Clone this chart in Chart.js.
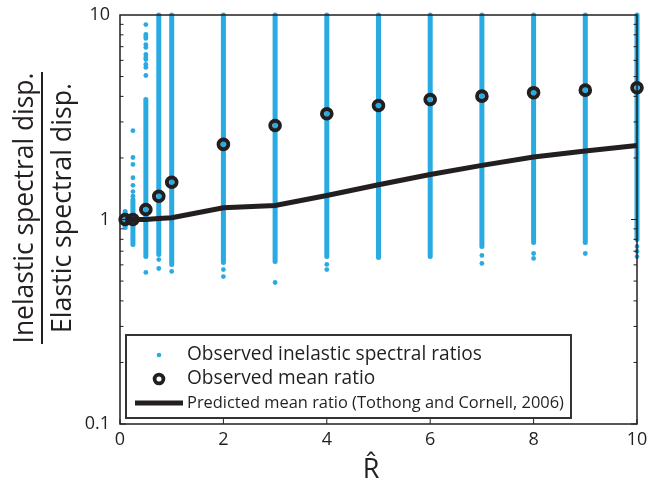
<!DOCTYPE html>
<html>
<head>
<meta charset="utf-8">
<script src="https://cdn.jsdelivr.net/npm/chart.js@4.4.0/dist/chart.umd.min.js"></script>
<style>
  html, body { margin: 0; padding: 0; background: #fff; }
  canvas { display: block; }
</style>
</head>
<body>
<canvas id="ratioChart" width="649" height="482"></canvas>
<script>
// R-hat values where the analyses were run
const rHat = [0.1, 0.25, 0.5, 0.75, 1, 2, 3, 4, 5, 6, 7, 8, 9, 10];
// dense part of each column of observed ratios (low / high end)
const obsLow = [0.914, 0.755, 0.659, 0.674, 0.603, 0.616, 0.623, 0.659, 0.652, 0.659, 0.738, 0.772, 0.772, 0.799];
const obsHigh = [1.094, 1.25, 3.86, 10, 10, 10, 10, 10, 10, 10, 10, 10, 10, 10];
// isolated observed ratios outside the dense part
const obsSparse = [
  [],
  [2.72, 2.01, 1.86, 1.60, 1.47, 1.37, 1.30],
  [8.98, 8.03, 7.85, 7.68, 7.17, 6.94, 6.41, 6.20, 6.06, 5.73, 5.54, 5.06, 0.551],
  [0.637, 0.576],
  [0.557],
  [0.569, 0.526],
  [0.492],
  [0.603, 0.569],
  [],
  [],
  [0.667, 0.610],
  [0.682, 0.645],
  [0.682],
  [0.738, 0.698, 0.659],
];
const meanRatio = [1.0, 1.0, 1.12, 1.30, 1.52, 2.33, 2.88, 3.29, 3.61, 3.86, 4.01, 4.17, 4.29, 4.41];
const predictedRatio = [1.0, 1.0, 1.0, 1.01, 1.02, 1.14, 1.17, 1.31, 1.48, 1.66, 1.84, 2.02, 2.16, 2.30];
const xTicks = [0, 2, 4, 6, 8, 10];
const yTicks = [0.1, 1, 10];

const BLUE = "#29abe2";
const INK = "#231f20";
const FONT = "'Open Sans', sans-serif";

const columnSets = rHat.map((x, i) => ({
  type: "line",
  data: [{ x, y: obsLow[i] }, { x, y: obsHigh[i] }],
  borderColor: BLUE,
  borderWidth: 5,
  borderCapStyle: "round",
  pointRadius: 0,
  clip: false,
}));

const sparsePoints = [];
obsSparse.forEach((vals, i) => vals.forEach((v) => sparsePoints.push({ x: rHat[i], y: v })));

// draw text so that it spans a given width
function fitText(ctx, text, x, y, width, base) {
  ctx.font = base + "px " + FONT;
  const size = base * width / ctx.measureText(text).width;
  ctx.font = size.toFixed(2) + "px " + FONT;
  ctx.fillText(text, x, y);
}

// labels may hang outside the plot; keep layout padding in charge
function noOverhang(scale) {
  scale.paddingTop = 0;
  scale.paddingBottom = 0;
  scale.paddingLeft = 0;
  scale.paddingRight = 0;
}

const frameAndLabels = {
  id: "frameAndLabels",
  afterDraw(chart) {
    const ctx = chart.ctx;
    const { left, right, top, bottom } = chart.chartArea;
    const xs = chart.scales.x;
    const ys = chart.scales.y;
    ctx.save();

    // frame
    ctx.strokeStyle = INK;
    ctx.lineWidth = 1.5;
    ctx.strokeRect(left, top, right - left, bottom - top);

    // inward tick marks
    ctx.lineWidth = 1;
    for (let k = -1; k <= 0; k++) {
      for (let m = 1; m <= 9; m++) {
        const py = ys.getPixelForValue(m * Math.pow(10, k));
        const len = m === 1 ? 6 : 3.5;
        ctx.beginPath();
        ctx.moveTo(left, py); ctx.lineTo(left + len, py);
        ctx.moveTo(right, py); ctx.lineTo(right - len, py);
        ctx.stroke();
      }
    }
    xTicks.forEach((t) => {
      const px = xs.getPixelForValue(t);
      ctx.beginPath();
      ctx.moveTo(px, bottom); ctx.lineTo(px, bottom - 5);
      ctx.stroke();
    });

    // x title
    ctx.fillStyle = INK;
    ctx.textAlign = "center";
    ctx.textBaseline = "alphabetic";
    ctx.font = "27px " + FONT;
    ctx.fillText("R\u0302", 371, 478);

    // y title (fraction)
    ctx.translate(0, 208);
    ctx.rotate(-Math.PI / 2);
    fitText(ctx, "Inelastic spectral disp.", 0, 33, 271, 24);
    fitText(ctx, "Elastic spectral disp.", 0, 71, 250, 24);
    ctx.strokeStyle = INK;
    ctx.lineWidth = 2;
    ctx.beginPath();
    ctx.moveTo(-136, 42); ctx.lineTo(136, 42);
    ctx.stroke();
    ctx.restore();

    // legend box
    ctx.save();
    ctx.fillStyle = "#fff";
    ctx.fillRect(126, 335, 445, 83);
    ctx.strokeStyle = "#333";
    ctx.lineWidth = 2;
    ctx.strokeRect(126, 335, 445, 83);

    ctx.fillStyle = BLUE;
    ctx.beginPath(); ctx.arc(159, 355, 2.3, 0, Math.PI * 2); ctx.fill();
    ctx.strokeStyle = INK;
    ctx.lineWidth = 3.8;
    ctx.beginPath(); ctx.arc(159, 379, 4.4, 0, Math.PI * 2); ctx.stroke();
    ctx.lineWidth = 5;
    ctx.beginPath(); ctx.moveTo(135, 403); ctx.lineTo(183, 403); ctx.stroke();

    ctx.fillStyle = INK;
    ctx.textAlign = "left";
    ctx.textBaseline = "middle";
    fitText(ctx, "Observed inelastic spectral ratios", 187, 355, 295, 18);
    ctx.fillText("Observed mean ratio", 187, 379);
    fitText(ctx, "Predicted mean ratio (Tothong and Cornell, 2006)", 187, 403, 377, 16);
    ctx.restore();
  },
};

new Chart(document.getElementById("ratioChart"), {
  type: "scatter",
  data: {
    datasets: [
      {
        data: rHat.map((x, i) => ({ x, y: meanRatio[i] })),
        pointRadius: 4.8,
        pointBorderWidth: 4,
        pointBorderColor: INK,
        pointBackgroundColor: "rgba(0,0,0,0)",
        clip: false,
      },
      {
        type: "line",
        data: rHat.map((x, i) => ({ x, y: predictedRatio[i] })),
        borderColor: INK,
        borderWidth: 5,
        tension: 0,
        pointRadius: 0,
        clip: false,
      },
      {
        data: sparsePoints,
        pointRadius: 2.4,
        pointBorderWidth: 0,
        pointBackgroundColor: BLUE,
        clip: false,
      },
      ...columnSets,
    ],
  },
  options: {
    responsive: false,
    animation: false,
    devicePixelRatio: 1,
    layout: { padding: { top: 15, right: 12, left: 0, bottom: 0 } },
    plugins: { legend: { display: false }, tooltip: { enabled: false } },
    scales: {
      x: {
        type: "linear",
        min: 0,
        max: 10,
        afterBuildTicks: (scale) => { scale.ticks = xTicks.map((v) => ({ value: v })); },
        afterFit: (scale) => { scale.height = 58; noOverhang(scale); },
        grid: { display: false, drawTicks: false },
        border: { display: false },
        ticks: { color: INK, font: { family: FONT, size: 18 }, padding: 5, maxRotation: 0 },
      },
      y: {
        type: "logarithmic",
        min: 0.1,
        max: 10,
        afterBuildTicks: (scale) => { scale.ticks = yTicks.map((v) => ({ value: v })); },
        afterFit: (scale) => { scale.width = 120; noOverhang(scale); },
        grid: { display: false, drawTicks: false },
        border: { display: false },
        ticks: { color: INK, font: { family: FONT, size: 18 }, padding: 10, callback: (v) => String(v) },
      },
    },
  },
  plugins: [frameAndLabels],
});
</script>
</body>
</html>
